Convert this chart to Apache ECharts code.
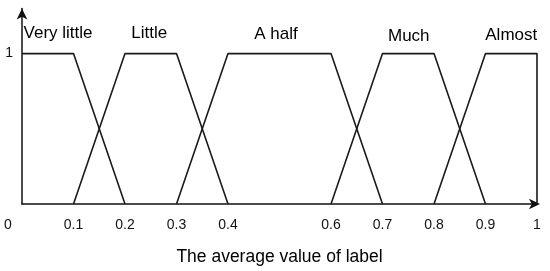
<!DOCTYPE html>
<html>
<head>
<meta charset="utf-8">
<script src="https://cdn.jsdelivr.net/npm/echarts@6/dist/echarts.min.js"></script>
<style>html,body{margin:0;padding:0;background:#fff}#c{width:550px;height:271px}</style>
</head>
<body>
<div id="c"></div>
<script>
// Membership function breakpoints (x, membership)
const names = ['Very little', 'Little', 'A half', 'Much', 'Almost'];
const veryLittle = [[0, 1], [0.1, 1], [0.2, 0]];
const little = [[0.1, 0], [0.2, 1], [0.3, 1], [0.4, 0]];
const aHalf = [[0.3, 0], [0.4, 1], [0.6, 1], [0.7, 0]];
const much = [[0.6, 0], [0.7, 1], [0.8, 1], [0.9, 0]];
const almost = [[0.8, 0], [0.9, 1], [1, 1], [1, 0]];
// label anchor x positions (data units)
const labelX = [0.07, 0.247, 0.493, 0.751, 0.95];
const xTicks = [0, 0.1, 0.2, 0.3, 0.4, 0.6, 0.7, 0.8, 0.9, 1];
const yTicks = [1];
const xName = 'The average value of label';

const seriesData = [veryLittle, little, aHalf, much, almost];
const labelDy = [-20, -20, -19, -17, -18];
const font = 'Liberation Sans, Arial, sans-serif';

const chart = echarts.init(document.getElementById('c'));
chart.setOption({
  animation: false,
  grid: { left: 22, right: 13, top: 8.5, bottom: 61 },
  xAxis: {
    type: 'value', min: 0, max: 1,
    name: xName, nameLocation: 'middle', nameGap: 44,
    nameTextStyle: { fontSize: 17.5, color: '#000', fontFamily: font },
    axisLine: { show: true, symbol: ['none', 'arrow'], symbolSize: [8, 11], symbolOffset: [0, 3], lineStyle: { color: '#111', width: 1.5 } },
    axisTick: { show: false },
    splitLine: { show: false },
    axisLabel: {
      customValues: xTicks, margin: 14, fontSize: 14, color: '#111', fontFamily: font,
      formatter: v => v === 0 ? '{z|0}' : String(v),
      rich: { z: { fontSize: 14, color: '#111', fontFamily: font, padding: [0, 28, 0, 0] } }
    }
  },
  yAxis: {
    type: 'value', min: 0, max: 1.3,
    axisLine: { show: true, symbol: ['none', 'arrow'], symbolSize: [8, 11], lineStyle: { color: '#111', width: 1.5 } },
    axisTick: { show: false },
    splitLine: { show: false },
    axisLabel: {
      customValues: yTicks, margin: 9, fontSize: 14, color: '#111', fontFamily: font,
      padding: [0, 0, 14, 0]
    }
  },
  series: seriesData.map((d, i) => ({
    name: names[i], type: 'line', data: d, symbol: 'none',
    lineStyle: { color: '#1a1a1a', width: 1.6 },
    markPoint: {
      symbol: 'circle', symbolSize: 0,
      data: [{ coord: [labelX[i], 1], value: names[i] }],
      label: { show: true, formatter: names[i], fontSize: 17, color: '#000', fontFamily: font, offset: [0, labelDy[i]] }
    }
  }))
});
</script>
</body>
</html>
